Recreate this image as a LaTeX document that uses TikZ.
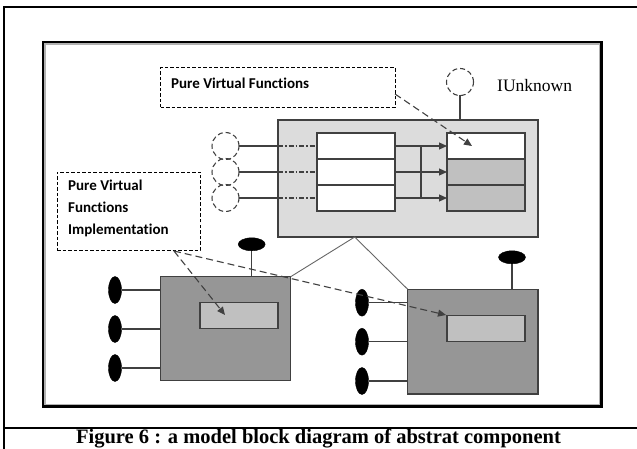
\documentclass[tikz,border=0pt]{standalone}
\usepackage{fontspec}
\setmainfont{Liberation Serif}
\newfontfamily\labelfont[Ligatures=NoCommon]{Carlito}
\usetikzlibrary{arrows.meta,calc,shapes.geometric}

\definecolor{edge}{HTML}{404040}
\definecolor{lightfill}{HTML}{DCDCDC}
\definecolor{cellgray}{HTML}{C0C0C0}
\definecolor{darkfill}{HTML}{969696}

\tikzset{
  rectbox/.style={draw=edge, line width=1.1pt, inner sep=0pt, outer sep=0pt},
  cellbox/.style={rectbox, minimum width=78pt, minimum height=26pt},
  notebox/.style={draw=black, dash pattern=on 3.5pt off 2pt, line width=0.8pt,
    inner sep=0pt, outer sep=0pt},
  notetext/.style={inner sep=0pt, font=\labelfont\bfseries\fontsize{15}{22}\selectfont},
  iface/.style={circle, draw=edge, dash pattern=on 5pt off 3pt, line width=1.1pt,
    minimum size=27pt, inner sep=0pt, outer sep=0pt},
  plug/.style={ellipse, fill=black, draw=black, inner sep=0pt, outer sep=0pt},
  plugv/.style={plug, minimum width=13pt, minimum height=27pt},
  plugh/.style={plug, minimum width=27pt, minimum height=13pt},
  wire/.style={draw=edge, line width=1.1pt},
  flow/.style={wire, -{Triangle[length=8pt,width=7pt]}},
  pointer/.style={draw=edge, line width=1.1pt, dash pattern=on 7pt off 4pt,
    -{Triangle[length=8pt,width=7pt]}},
}

\begin{document}
\begin{tikzpicture}[x=1pt,y=-1pt]
\useasboundingbox (0,0) rectangle (637,449);
\fill[white] (0,0) rectangle (637,449);

% page frame and caption rule
\draw[line width=2.2pt] (4,449) -- (4,7) -- (637,7);
\draw[line width=2.2pt] (4,428) -- (637,428);
\node[font=\bfseries\fontsize{20.5}{24}\selectfont] (caption) at (318.5,438.5)
  {Figure 6 : a model block diagram of abstrat component};

% drawing area frame with a soft inner shade
\draw[line width=3pt, gray!60] (44.5,43.5) rectangle (600.5,405.5);
\draw[line width=2.4pt] (42.7,42) rectangle (601.5,406.5);

% main component
\node[rectbox, fill=lightfill, minimum width=260pt, minimum height=117pt] (comp) at (408,178.5) {};
\foreach \i/\y in {1/146,2/172,3/198} {
  \node[cellbox, fill=white] (lc\i) at (356,\y) {};
}
\node[cellbox, fill=white]    (rc1) at (486,146) {};
\node[cellbox, fill=cellgray] (rc2) at (486,172) {};
\node[cellbox, fill=cellgray] (rc3) at (486,198) {};

% interface circles feeding the component
\foreach \i/\y in {1/146,2/172,3/198} {
  \node[iface] (in\i) at (225.5,\y) {};
  \draw[wire] (in\i.east) -- (in\i.east -| comp.west);
  \draw[wire, dash pattern=on 5pt off 2pt on 1.5pt off 2pt] (in\i.east -| comp.west) -- (lc\i.west);
}

% table entries pointing into the vtable
\coordinate (bus) at (421,146);
\foreach \i in {1,2,3} {
  \draw[flow] (lc\i.east) -- (rc\i.west);
}
\draw[wire] (bus |- lc1.east) -- (bus |- lc3.east);

% IUnknown interface
\node[iface] (iu) at (460,82) {};
\node[anchor=west, inner sep=0pt, font=\fontsize{17.5}{20}\selectfont] (iulabel) at (497,86) {IUnknown};
\draw[wire] (iu.south) -- (iu.south |- comp.north);

% annotation boxes
\node[notebox, minimum width=234.3pt, minimum height=39.3pt] (pvf) at (277.85,87.35) {};
\node[notetext, anchor=west] (pvftext) at (171,83) {Pure Virtual Functions};
\node[notebox, minimum width=143pt, minimum height=78pt] (pvfi) at (128.5,211) {};
\node[notetext, anchor=north west, align=left] (pvfitext) at (68,180)
  {Pure Virtual\\Functions\\Implementation};

% implementing components
\node[rectbox, fill=darkfill, minimum width=130pt, minimum height=104pt] (cl) at (225.7,328.7) {};
\node[rectbox, fill=cellgray, minimum width=78pt, minimum height=25.6pt] (cli) at (239,315.5) {};
\node[plugh] (clt) at (251.7,244.3) {};
\draw[wire] (clt.south) -- (clt.south |- cl.north);
\foreach \i/\y in {1/290,2/329,3/368} {
  \node[plugv] (clp\i) at (115,\y) {};
  \draw[wire] (clp\i.east) -- (clp\i.east -| cl.west);
}

\node[rectbox, fill=darkfill, minimum width=130.3pt, minimum height=104.7pt] (cr) at (472.85,341.65) {};
\node[rectbox, fill=cellgray, minimum width=78pt, minimum height=26pt] (cri) at (486,328.7) {};
\node[plugh] (crt) at (512,257.3) {};
\draw[wire] (crt.south) -- (crt.south |- cr.north);
\foreach \i/\y in {1/302.7,2/341.7,3/381} {
  \node[plugv] (crp\i) at (362,\y) {};
  \draw[wire] (crp\i.east) -- (crp\i.east -| cr.west);
}

% inheritance lines from the abstract component
\coordinate (apex) at (354.7,237);
\draw[draw=edge!80, line width=0.9pt] (cl.north east) -- (apex) -- (cr.north west);

% annotation pointers
\coordinate (pvfstart) at (395,94);
\coordinate (pvfend) at (472,146);
\draw[pointer] (pvfstart) -- (pvfend);
\coordinate (implstart) at (174,251);
\coordinate (implend1) at (225,315);
\coordinate (implend2) at (446,315);
\draw[pointer] (implstart) -- (implend1);
\draw[pointer] (implstart) -- (implend2);
\end{tikzpicture}
\end{document}
